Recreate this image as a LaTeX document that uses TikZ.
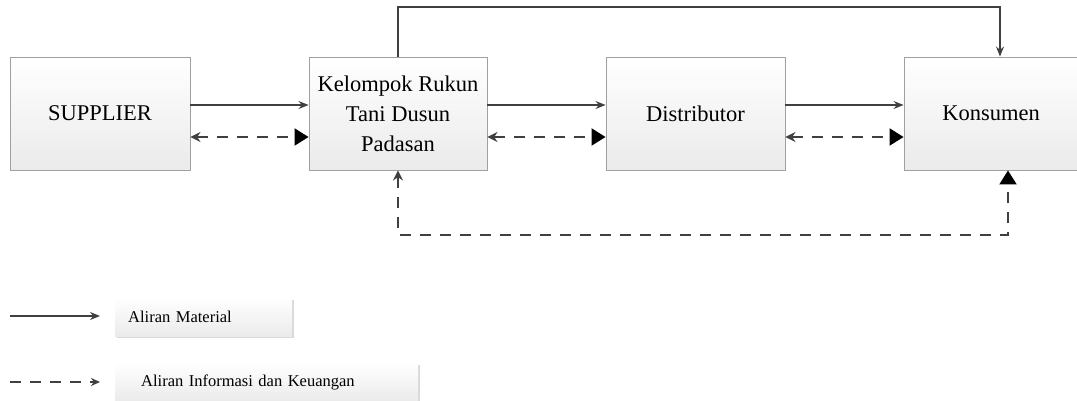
\documentclass[tikz,border=0pt]{standalone}
\usepackage{fontspec}
\setmainfont{Liberation Serif}
\usetikzlibrary{arrows.meta,shadows}
\definecolor{linegray}{HTML}{404040}
\definecolor{boxedge}{HTML}{A0A0A0}
\tikzset{
  block/.style={draw=boxedge, line width=0.9pt, top color=white, bottom color=black!8,
    minimum height=113pt, align=center, font=\fontsize{22.5}{30}\selectfont, inner sep=1pt,
    drop shadow={shadow xshift=1.2pt, shadow yshift=-1.2pt, opacity=0.35}},
  legendbox/.style={top color=white, bottom color=black!8, minimum height=38pt,
    anchor=west, inner sep=0pt, font=\fontsize{16.5}{18}\selectfont,
    drop shadow={shadow xshift=1.5pt, shadow yshift=-1.5pt, opacity=0.3}},
  flow/.style={draw=linegray, line width=1.2pt, -{Stealth[length=10pt,width=8pt]}},
  info/.style={draw=linegray, line width=2pt, dash pattern=on 11pt off 9pt,
    {Stealth[length=10pt,width=10pt]}-{Triangle[length=14pt,width=17pt,fill=black,color=black]}},
  infolegend/.style={draw=linegray, line width=2pt, dash pattern=on 11pt off 9pt,
    -{Stealth[length=9pt,width=8pt]}}
}
\begin{document}
\begin{tikzpicture}[x=1pt,y=-1pt]
\useasboundingbox (0,0) rectangle (1077,401);

% main chain of actors
\node[block, minimum width=180pt] (sup) at (100,113.5) {SUPPLIER};
\node[block, minimum width=178pt] (krt) at (398,113.5) {Kelompok Rukun\\Tani Dusun\\Padasan};
\node[block, minimum width=179pt] (dis) at (695.5,113.5) {Distributor};
\node[block, minimum width=174pt] (kon) at (991,113.5) {Konsumen};

% material flow
\draw[flow] (sup.east |- 0,105) -- (krt.west |- 0,105);
\draw[flow] (krt.east |- 0,105) -- (dis.west |- 0,105);
\draw[flow] (dis.east |- 0,105) -- (kon.west |- 0,105);
\draw[flow] (krt.north) -- (krt.north |- 0,7) -| (kon.north -| 1000,0);

% information and money flow
\draw[info] (sup.east |- 0,137) -- (krt.west |- 0,137);
\draw[info] (krt.east |- 0,137) -- (dis.west |- 0,137);
\draw[info] (dis.east |- 0,137) -- (kon.west |- 0,137);
\draw[info] (krt.south) -- (krt.south |- 0,235) -| (kon.south -| 1008,0);

% legend
\coordinate (l1a) at (10,316);
\coordinate (l1b) at (100,316);
\coordinate (l2a) at (10,382);
\coordinate (l2b) at (100,382);
\draw[flow] (l1a) -- (l1b);
\draw[infolegend] (l2a) -- (l2b);
\node[legendbox, minimum width=177pt, text width=177pt] (lg1) at (115,317)
  {\hspace*{13pt}Aliran Material};
\node[legendbox, minimum width=303pt, text width=303pt] (lg2) at (115,382)
  {\hspace*{26pt}Aliran Informasi dan Keuangan};
\end{tikzpicture}
\end{document}
